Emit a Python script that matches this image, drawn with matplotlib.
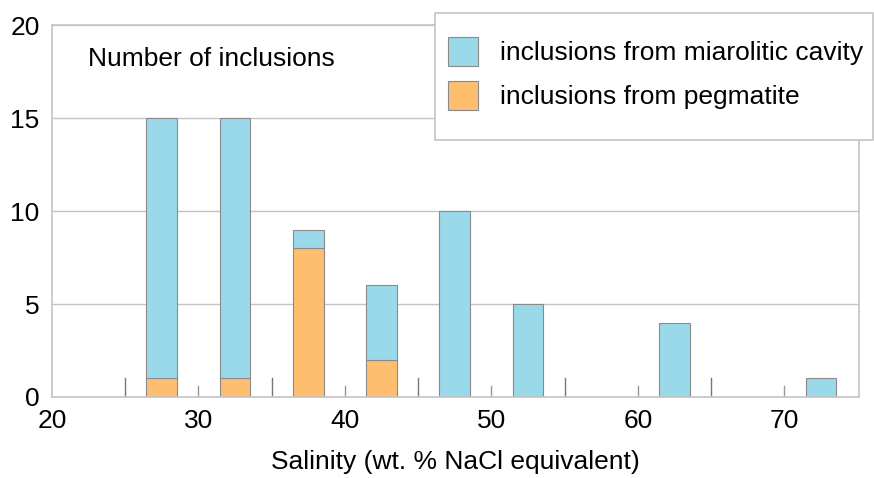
import numpy as np
import matplotlib.pyplot as plt
from matplotlib.patches import Rectangle

plt.rcParams['font.family'] = ['Liberation Sans', 'DejaVu Sans']

# bin centres, salinity wt.% NaCl eq.
centers = [27.5, 32.5, 37.5, 42.5, 47.5, 52.5, 57.5, 62.5, 67.5, 72.5]
pegmatite = [1, 1, 8, 2, 0, 0, 0, 0, 0, 0]
miarolitic = [14, 14, 1, 4, 10, 5, 0, 4, 0, 1]
xticks = [20, 30, 40, 50, 60, 70]
yticks = [0, 5, 10, 15, 20]

blue = '#99d9e9'
orange = '#fdbf6f'
edge = '#8a8a8a'
grid = '#c4c4c4'
fs = 19

fig = plt.figure(figsize=(8.74, 4.78), dpi=100)
ax = fig.add_axes([0.0595, 0.1695, 0.9235, 0.778])

ax.bar(centers, pegmatite, width=2.1, color=orange, edgecolor=edge, linewidth=0.8, zorder=3,
       label='inclusions from pegmatite')
ax.bar(centers, miarolitic, width=2.1, bottom=pegmatite, color=blue, edgecolor=edge, linewidth=0.8,
       zorder=3, label='inclusions from miarolitic cavity')

ax.set_xlim(20, 75.1)
ax.set_ylim(0, 20)
ax.set_xticks(xticks)
ax.set_yticks(yticks)
ax.tick_params(axis='both', length=0, labelsize=fs)
ax.tick_params(axis='y', pad=9)
ax.tick_params(axis='x', pad=9)

# tick marks drawn inside, taller at bin edges 25,35..
for x in np.arange(25, 75, 10):
    ax.plot([x, x], [0, 1.0], color='#777777', lw=1, zorder=2)
for x in xticks[1:]:
    ax.plot([x, x], [0, 0.6], color='#999999', lw=1, zorder=2)

for y in yticks[1:]:
    ax.axhline(y, color=grid, lw=1, zorder=1)
for s in ['left', 'right', 'top', 'bottom']:
    ax.spines[s].set_color(grid)
    ax.spines[s].set_linewidth(1.2)
ax.spines['bottom'].set_zorder(4)

ax.set_xlabel('Salinity (wt. % NaCl equivalent)', fontsize=fs, labelpad=12)
ax.text(0.045, 0.91, 'Number of inclusions', transform=ax.transAxes, fontsize=fs, va='center')

# legend frame drawn separately (more padding top/bottom than sides)
frame = Rectangle((435 / 874, 1 - 140 / 478), 438 / 874, 127 / 478, transform=fig.transFigure,
                  facecolor='white', edgecolor=grid, lw=1.2, clip_on=False, zorder=4)
ax.add_patch(frame)

h, l = ax.get_legend_handles_labels()
leg = ax.legend(h[::-1], l[::-1], loc='upper left', bbox_to_anchor=(448 / 874, 1 - 37 / 478),
                bbox_transform=fig.transFigure, borderaxespad=0, borderpad=0, fontsize=fs,
                frameon=False, handlelength=1.14, handleheight=1.32,
                handletextpad=0.83, labelspacing=0.56)
leg.set_zorder(5)

fig.savefig('out.png', dpi=100)
